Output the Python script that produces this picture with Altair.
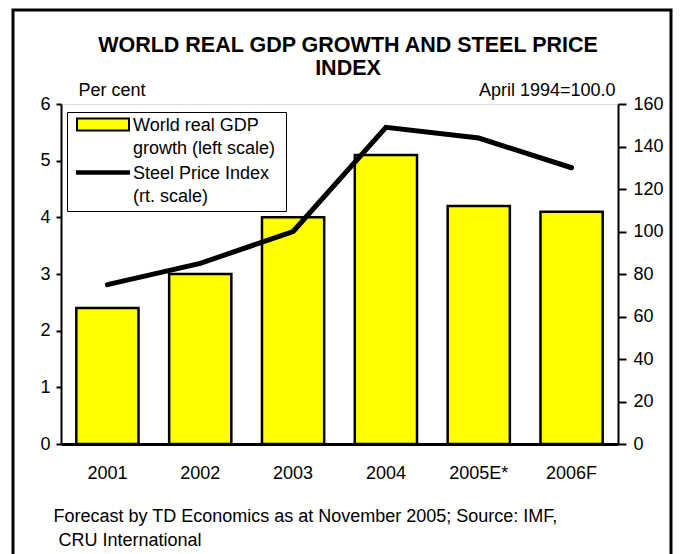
import altair as alt
import pandas as pd

# ---- data ----
years = ["2001", "2002", "2003", "2004", "2005E*", "2006F"]
gdp_growth = [2.4, 3.0, 4.0, 5.1, 4.2, 4.1]
steel_index = [75, 85, 100, 149, 144, 130]

GDP_LABEL = "World real GDP|growth (left scale)"
STEEL_LABEL = "Steel Price Index|(rt. scale)"
series_names = [GDP_LABEL, STEEL_LABEL]

title_lines = ["WORLD REAL GDP GROWTH AND STEEL PRICE", "INDEX"]
left_unit = "Per cent"
right_unit = "April 1994=100.0"
footer_lines = ["Forecast by TD Economics as at November 2005; Source: IMF,",
                "\u200b\u00a0CRU International"]

df = pd.DataFrame({"year": years, "gdp": gdp_growth, "steel": steel_index})
df["gdp_series"] = GDP_LABEL
df["steel_series"] = STEEL_LABEL

FONT = "Liberation Sans"
W, H = 557, 340

x_enc = alt.X(
    "year:N", sort=years,
    scale=alt.Scale(paddingInner=0.33, paddingOuter=0.165),
    axis=alt.Axis(
        title=footer_lines, labelAngle=0, ticks=False, tickSize=0, labelPadding=20,
        domainWidth=3, domainColor="black",
        labelFont=FONT, labelFontSize=18, labelColor="black",
        titleX=-8, titleY=77, titleAlign="left", titleAnchor="start",
        titleBaseline="alphabetic", titleLineHeight=24, titleAngle=0,
        titleFont=FONT, titleFontSize=18, titleFontWeight="normal", titleColor="black",
    ),
)

expr_gdp = "datum.value == '%s'" % GDP_LABEL

legend = alt.Legend(
    title=None, orient="none", legendX=6, legendY=8, direction="vertical",
    labelExpr="split(datum.label + '\u00a0\u200b', '|')",
    labelFont=FONT, labelFontSize=18, labelColor="black",
    labelBaseline="alphabetic", labelOffset=16, labelLimit=400,
    symbolType={"expr": expr_gdp + " ? 'M-2,-0.96H2V-0.04H-2Z' : 'M-2,-0.6H2V-0.4H-2Z'"},
    symbolSize=676,
    symbolStrokeWidth=2,
    symbolStrokeColor="black",
    symbolOffset=17,
    padding=5, rowPadding=7, strokeColor="black", fillColor="white",
)

border = alt.Chart(alt.Data(values=[{"k": 1}])).mark_rect(
    fill="transparent", stroke="black", strokeWidth=3
).encode(
    x=alt.value(-48), x2=alt.value(610), y=alt.value(-94), y2=alt.value(470)
)

bars = alt.Chart(df).mark_bar().encode(
    x=x_enc,
    y=alt.Y("gdp:Q", scale=alt.Scale(domain=[0, 6]),
            axis=alt.Axis(values=[0, 1, 2, 3, 4, 5, 6], title=left_unit, orient="left",
                          tickSize=5, tickColor="black", tickWidth=2, labelPadding=6,
                          domainColor="black", domainWidth=2, grid=False,
                          labelFont=FONT, labelFontSize=18, labelColor="black",
                          titleAngle=0, titleX=17, titleY=-14, titleAlign="left",
                          titleBaseline="middle", titleFont=FONT, titleFontSize=18,
                          titleFontWeight="normal", titleColor="black")),
    fill=alt.Fill("gdp_series:N", scale=alt.Scale(domain=series_names, range=["#FFFF00", "black"]),
                  legend=legend),
    stroke=alt.value("black"),
    strokeWidth=alt.value(2.5),
)

line = alt.Chart(df).mark_line(strokeWidth=5, strokeCap="round", strokeJoin="miter").encode(
    x=x_enc,
    y=alt.Y("steel:Q", scale=alt.Scale(domain=[0, 160]),
            axis=alt.Axis(values=[0, 20, 40, 60, 80, 100, 120, 140, 160], title=right_unit,
                          orient="right", tickSize=8, tickColor="black", tickWidth=2,
                          labelPadding=7, domainColor="black", domainWidth=2, grid=False,
                          labelFont=FONT, labelFontSize=18, labelColor="black",
                          titleAngle=0, titleX=-3, titleY=-14, titleAlign="right",
                          titleBaseline="middle", titleFont=FONT, titleFontSize=18,
                          titleFontWeight="normal", titleColor="black")),
    stroke=alt.Stroke("steel_series:N", scale=alt.Scale(domain=series_names, range=["black", "black"]),
                      legend=alt.Legend(title=None)),
)

chart = alt.layer(border, bars, line).resolve_scale(y="independent").properties(
    width=W, height=H,
    autosize=alt.AutoSizeParams(type="none"),
    padding={"left": 53, "top": 96, "right": 55, "bottom": 110},
    title=alt.TitleParams(text=title_lines, font=FONT, fontSize=21.5, fontWeight="bold",
                          color="black", anchor="middle", lineHeight=23, dx=8.5, dy=75),
).configure_view(stroke="black", strokeWidth=2).configure(
    background="white", style={"guide-label": {"lineHeight": 23}}
)

chart.save("out.html", embed_options={"renderer": "svg", "actions": False})
